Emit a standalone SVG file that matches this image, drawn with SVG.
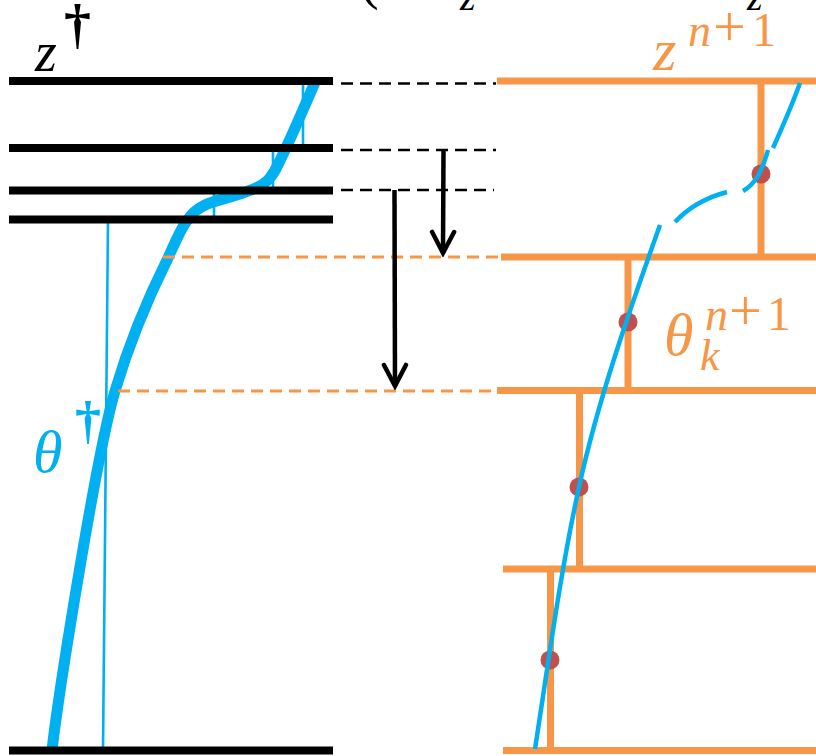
<svg xmlns="http://www.w3.org/2000/svg" width="816" height="756" viewBox="0 0 816 756">
<style>
.blk{stroke:#000;stroke-width:8;fill:none}
.org{stroke:#F79646;stroke-width:7;fill:none}
.bdash{stroke:#000;stroke-width:2.5;stroke-dasharray:12 7;fill:none}
.odash{stroke:#F79646;stroke-width:3;stroke-dasharray:12 7;fill:none}
.blue{stroke:#00B0F0;fill:none}
.dot{fill:#C0504D}
.arr{stroke:#000;stroke-width:4.5;fill:none}
.m{font-family:"Liberation Serif","Times New Roman",serif;font-style:italic}
.u{font-family:"Liberation Serif","Times New Roman",serif;font-style:normal}
</style>
<defs>
<marker id="head" markerUnits="userSpaceOnUse" markerWidth="30" markerHeight="30" viewBox="-26 -15 30 30" refX="0" refY="0" orient="auto">
<path d="M-21,-11 L0,0 L-21,11" stroke="#000" stroke-width="4.5" fill="none" stroke-linecap="round" stroke-linejoin="miter"/>
</marker>
</defs>
<rect width="816" height="756" fill="#fff"/>

<g id="fragments">
<text class="u" x="360" y="-2" font-size="56" fill="#000">(</text>
<text class="m" x="460" y="10" font-size="40" fill="#000">z</text>
<text class="m" x="747" y="10" font-size="40" fill="#000">z</text>
</g>

<g id="left-profile">
<path class="blue" stroke-width="2.6" d="M103,750 L108,219 L214,219 L214,190 L273,190 L273,148 L303,148 L303,81"/>
<path class="blue" stroke-width="11" d="M52,750 C59,690 97,451 115,391 C128,347 146,302 168,258 C174,245 179.8,230.8 186,222 C192.2,213.2 195.5,209.8 205,205 C214.5,200.2 232.5,197.2 243,193 C253.5,188.8 261,187.2 268,180 C275,172.8 277,166.7 285,150 C293,133.3 310.8,91.7 316,80"/>
</g>

<g id="left-grid">
<line class="blk" x1="9" y1="81" x2="333" y2="81"/>
<line class="blk" x1="9" y1="148" x2="333" y2="148"/>
<line class="blk" x1="9" y1="190.5" x2="333" y2="190.5"/>
<line class="blk" x1="9" y1="219.5" x2="333" y2="219.5"/>
<line class="blk" x1="9" y1="750.5" x2="333" y2="750.5"/>
</g>

<g id="right-grid">
<line class="org" x1="497" y1="81" x2="816" y2="81"/>
<line class="org" x1="501" y1="257" x2="816" y2="257"/>
<line class="org" x1="497" y1="390.5" x2="816" y2="390.5"/>
<line class="org" x1="503" y1="569" x2="816" y2="569"/>
<line class="org" x1="503" y1="750.5" x2="816" y2="750.5"/>
<line class="org" x1="761" y1="81" x2="761" y2="257"/>
<line class="org" x1="628" y1="257" x2="628" y2="390"/>
<line class="org" x1="579.5" y1="390" x2="579.5" y2="569"/>
<line class="org" x1="550.5" y1="569" x2="550.5" y2="750"/>
</g>

<g id="dots">
<circle class="dot" cx="761" cy="174" r="9.5"/>
<circle class="dot" cx="628" cy="322" r="9.5"/>
<circle class="dot" cx="579" cy="487" r="9.5"/>
<circle class="dot" cx="550" cy="660" r="9.5"/>
</g>

<g id="right-profile">
<path class="blue" stroke-width="4.5" d="M535,749 C548.5,662 560,574 579,487 C598,400 629,312 660,225"/>
<path class="blue" stroke-width="4.5" d="M675,222 C690,206 708,197 727,192"/>
<path class="blue" stroke-width="4.5" d="M743,191 C757,183 763,168 768,150"/>
<path class="blue" stroke-width="4.5" d="M773,148 C782,128 792,105 800,83"/>
</g>

<g id="connectors">
<line class="bdash" x1="341" y1="83.5" x2="496" y2="83.5"/>
<line class="bdash" x1="341" y1="150" x2="496" y2="150"/>
<line class="bdash" x1="341" y1="190" x2="494" y2="190"/>
<line class="odash" x1="163" y1="257" x2="501" y2="257"/>
<line class="odash" x1="118" y1="391" x2="501" y2="391"/>
<line class="arr" x1="443.5" y1="150" x2="443" y2="253" marker-end="url(#head)"/>
<line class="arr" x1="394.5" y1="190" x2="395" y2="386" marker-end="url(#head)"/>
</g>

<g id="labels">
<text class="m" x="35" y="71" font-size="56" fill="#000">z</text>
<text class="u" x="64" y="42" font-size="54" font-weight="bold" fill="#000">†</text>
<text class="m" x="653" y="70" font-size="60" fill="#F79646">z</text>
<text class="m" x="688" y="46" font-size="46" fill="#F79646">n</text>
<text class="u" x="713" y="46" font-size="58" fill="#F79646">+</text>
<text class="u" x="752" y="46" font-size="48" fill="#F79646">1</text>
<text class="m" x="33" y="472" font-size="60" fill="#00B0F0">θ</text>
<text class="u" x="75" y="438" font-size="52" font-weight="bold" fill="#00B0F0">†</text>
<text class="m" x="664" y="355" font-size="60" fill="#F79646">θ</text>
<text class="m" x="700" y="370" font-size="44" fill="#F79646">k</text>
<text class="m" x="705" y="330" font-size="46" fill="#F79646">n</text>
<text class="u" x="729" y="330" font-size="58" fill="#F79646">+</text>
<text class="u" x="767" y="330" font-size="48" fill="#F79646">1</text>
</g>
</svg>
